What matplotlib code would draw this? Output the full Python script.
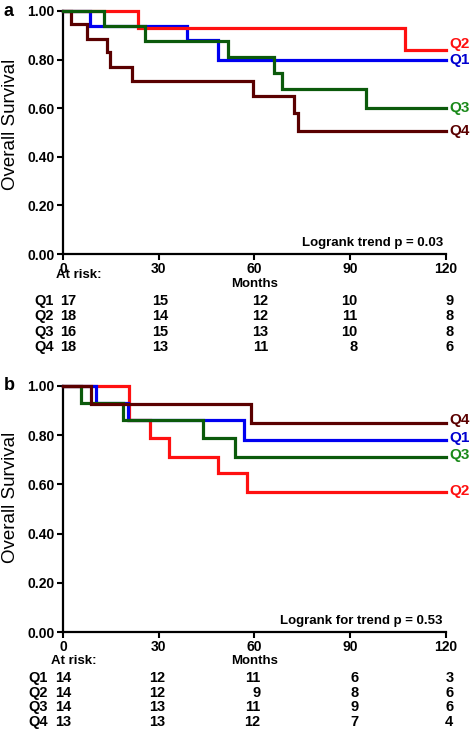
import matplotlib
matplotlib.use("Agg")
import matplotlib.pyplot as plt
import matplotlib.transforms as mtransforms
import matplotlib.font_manager as _fm

_available = {f.name for f in _fm.fontManager.ttflist}
_NARROW = "Liberation Sans Narrow" if "Liberation Sans Narrow" in _available else "Liberation Sans"

plt.rcParams.update({
    "font.family": ["Liberation Sans", "DejaVu Sans"],
    "font.size": 9.5,
})

# ── data ───────────────────────────────────────────────────────────────────────
GROUPS = ["Q1", "Q2", "Q3", "Q4"]
RISK_TIMES = [0, 30, 60, 90, 120]

# panel a: step times (months) and survival
A_Q1_T = [0, 8.5, 39, 48.7, 120]
A_Q1_S = [1.0, 0.94, 0.88, 0.80, 0.80]
A_Q2_T = [0, 23.5, 107, 120]
A_Q2_S = [1.0, 0.93, 0.84, 0.84]
A_Q3_T = [0, 12.8, 25.7, 51.8, 66, 68.7, 95, 120]
A_Q3_S = [1.0, 0.94, 0.875, 0.81, 0.745, 0.68, 0.60, 0.60]
A_Q4_T = [0, 2.5, 7.6, 13.7, 14.7, 21.5, 59.6, 72.4, 73.7, 120]
A_Q4_S = [1.0, 0.945, 0.885, 0.83, 0.77, 0.71, 0.65, 0.58, 0.505, 0.505]
A_RISK = {
    "Q1": [17, 15, 12, 10, 9],
    "Q2": [18, 14, 12, 11, 8],
    "Q3": [16, 15, 13, 10, 8],
    "Q4": [18, 13, 11, 8, 6],
}
A_PVAL = "Logrank trend p = 0.03"

# panel b
B_Q1_T = [0, 10.2, 20.5, 56.7, 120]
B_Q1_S = [1.0, 0.93, 0.86, 0.78, 0.78]
B_Q2_T = [0, 20.8, 27.3, 33.3, 48.7, 57.7, 120]
B_Q2_S = [1.0, 0.86, 0.79, 0.71, 0.645, 0.57, 0.57]
B_Q3_T = [0, 5.6, 18.7, 43.8, 53.8, 120]
B_Q3_S = [1.0, 0.93, 0.86, 0.79, 0.71, 0.71]
B_Q4_T = [0, 8.7, 58.8, 120]
B_Q4_S = [1.0, 0.925, 0.85, 0.85]
B_RISK = {
    "Q1": [14, 12, 11, 6, 3],
    "Q2": [14, 12, 9, 8, 6],
    "Q3": [14, 13, 11, 9, 6],
    "Q4": [13, 13, 12, 7, 4],
}
B_PVAL = "Logrank for trend p = 0.53"

# ── style ──────────────────────────────────────────────────────────────────────
COLORS = {"Q1": "#0000F0", "Q2": "#FF1010", "Q3": "#0B5A0B", "Q4": "#5A0000"}
LABEL_COLORS = {"Q1": "#0000D0", "Q2": "#FF1010", "Q3": "#1A8A1A", "Q4": "#5A0000"}


def draw_panel(ax, curves, order, label_y, risk, pval, letter, ylab_y,
               risk_rows_y, header_y, months_y, qlab_x, first_x, col_x):
    for g in order:
        t, s = curves[g]
        ax.step(t, s, where="post", color=COLORS[g], linewidth=2.3,
                clip_on=False, solid_joinstyle="miter", zorder=3)
        ax.text(121, label_y[g], g, color=LABEL_COLORS[g], fontsize=11,
                fontweight="bold", ha="left", va="center", clip_on=False)

    ax.set_xlim(0, 120)
    ax.set_ylim(0, 1.0)
    ax.set_xticks(RISK_TIMES)
    ax.set_yticks([0, 0.2, 0.4, 0.6, 0.8, 1.0])
    ax.set_yticklabels([f"{v:.2f}" for v in [0, 0.2, 0.4, 0.6, 0.8, 1.0]])
    for lab in ax.get_xticklabels() + ax.get_yticklabels():
        lab.set_fontweight("bold")
        lab.set_fontsize(10)
    ax.tick_params(axis="both", length=4, width=1.5, pad=2, direction="out")
    ax.spines["top"].set_visible(False)
    ax.spines["right"].set_visible(False)
    ax.spines["left"].set_linewidth(1.6)
    ax.spines["bottom"].set_linewidth(1.6)
    ax.set_ylabel("Overall Survival", fontsize=13.5)
    ax.yaxis.set_label_coords(-0.114, ylab_y)

    tr = mtransforms.blended_transform_factory(ax.transData, ax.transAxes)
    ax.text(119, 0.045, pval, transform=tr, ha="right", va="center",
            fontweight="bold", fontsize=9.5)

    ax.text(first_x - 1.2, header_y, "At risk:", transform=tr, ha="left",
            va="center", fontweight="bold", fontsize=9.5)
    ax.text(60, months_y, "Months", transform=tr, ha="center", va="center",
            fontweight="bold", fontsize=9.5)
    for g, yy in zip(GROUPS, risk_rows_y):
        ax.text(qlab_x, yy, g, transform=tr, ha="left", va="center",
                fontweight="bold", fontsize=10.5, family=_NARROW)
        vals = risk[g]
        ax.text(first_x, yy, str(vals[0]), transform=tr, ha="left",
                va="center", fontweight="bold", fontsize=10.5, family=_NARROW)
        for v, cx in zip(vals[1:], col_x):
            ax.text(cx, yy, str(v), transform=tr, ha="right", va="center",
                    fontweight="bold", fontsize=10.5, family=_NARROW)

    ax.text(-0.155, 1.0, letter, transform=ax.transAxes, fontsize=13,
            fontweight="bold", ha="left", va="center")


fig = plt.figure(figsize=(4.72, 7.29), dpi=100)
ax_a = fig.add_axes([63 / 472, 1 - 254 / 729, 383 / 472, 243 / 729])
ax_b = fig.add_axes([63 / 472, 1 - 632 / 729, 383 / 472, 246 / 729])

draw_panel(
    ax_a,
    {"Q1": (A_Q1_T, A_Q1_S), "Q2": (A_Q2_T, A_Q2_S),
     "Q3": (A_Q3_T, A_Q3_S), "Q4": (A_Q4_T, A_Q4_S)},
    order=["Q1", "Q2", "Q4", "Q3"],
    label_y={"Q2": 0.865, "Q1": 0.80, "Q3": 0.60, "Q4": 0.505},
    risk=A_RISK, pval=A_PVAL, letter="a", ylab_y=0.535,
    risk_rows_y=[-0.192, -0.255, -0.319, -0.381],
    header_y=-0.086, months_y=-0.123,
    qlab_x=-9.1, first_x=-0.9, col_x=[32.9, 64.3, 92.2, 122.3],
)

draw_panel(
    ax_b,
    {"Q1": (B_Q1_T, B_Q1_S), "Q2": (B_Q2_T, B_Q2_S),
     "Q3": (B_Q3_T, B_Q3_S), "Q4": (B_Q4_T, B_Q4_S)},
    order=["Q2", "Q1", "Q3", "Q4"],
    label_y={"Q4": 0.862, "Q1": 0.79, "Q3": 0.72, "Q2": 0.574},
    risk=B_RISK, pval=B_PVAL, letter="b", ylab_y=0.549,
    risk_rows_y=[-0.187, -0.248, -0.305, -0.366],
    header_y=-0.118, months_y=-0.118,
    qlab_x=-11.0, first_x=-2.5, col_x=[32.0, 61.8, 92.5, 122.3],
)

fig.savefig("out.png", dpi=100)
